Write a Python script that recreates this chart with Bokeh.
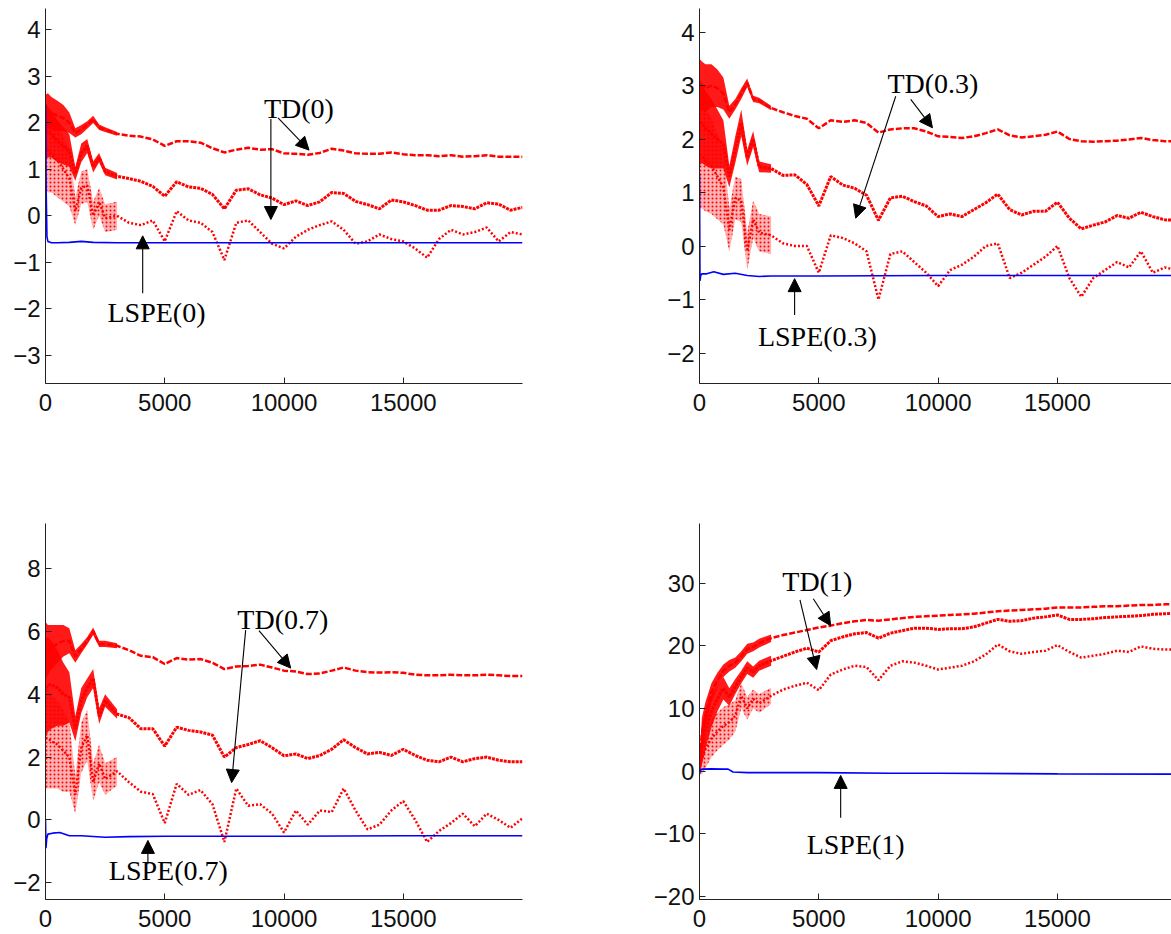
from bokeh.plotting import figure
from bokeh.layouts import column, row
from bokeh.models import Range1d, FixedTicker, Arrow, NormalHead, Label
from bokeh.embed import file_html
from bokeh.resources import INLINE

# ---------------- data ----------------
X = [0, 100, 250, 500, 750, 1000, 1250, 1500, 1750, 2000, 2250, 2500,
     3000, 3500, 4000, 4500, 5000, 5500, 6000, 6500, 7000, 7500,
     8000, 8500, 9000, 9500, 10000, 10500, 11000, 11500, 12000, 12500,
     13000, 13500, 14000, 14500, 15000, 15500, 16000, 16500, 17000, 17500,
     18000, 18500, 19000, 19500, 20000]
EARLY_X = [0, 100, 250, 500, 750, 1000, 1250, 1500, 1750, 2000, 2250, 2500, 3000]
X_TICKS = [0, 5000, 10000, 15000]

# TD(0) panel
TD0_TOP = [2.2, 2.25, 2.2, 2.15, 2.1, 2.0, 1.78, 1.85, 1.95, 2.07, 1.9, 1.85,
           1.76, 1.72, 1.7, 1.64, 1.5, 1.6, 1.6, 1.57, 1.45, 1.36,
           1.42, 1.46, 1.42, 1.43, 1.34, 1.33, 1.31, 1.35, 1.44, 1.4,
           1.34, 1.33, 1.33, 1.36, 1.32, 1.3, 1.3, 1.28, 1.3, 1.27,
           1.28, 1.3, 1.27, 1.27, 1.27]
TD0_MID = [1.8, 1.8, 1.75, 1.6, 1.5, 1.4, 0.9, 1.35, 1.5, 1.05, 1.25, 0.95,
           0.85, 0.8, 0.74, 0.63, 0.42, 0.73, 0.62, 0.59, 0.46, 0.15,
           0.55, 0.58, 0.45, 0.38, 0.24, 0.32, 0.22, 0.3, 0.5, 0.48,
           0.31, 0.24, 0.15, 0.34, 0.3, 0.22, 0.12, 0.12, 0.22, 0.2,
           0.15, 0.28, 0.25, 0.12, 0.18]
TD0_LOW = [1.5, 1.4, 1.3, 1.2, 1.0, 0.8, 0.1, 0.6, 0.65, 0.0, 0.3, -0.05,
           0.0, -0.15, -0.2, -0.1, -0.55, 0.1, -0.1, -0.15, -0.35, -0.95,
           -0.15, -0.1, -0.35, -0.6, -0.7, -0.45, -0.3, -0.2, -0.12, -0.3,
           -0.6, -0.55, -0.4, -0.5, -0.55, -0.7, -0.9, -0.5, -0.3, -0.4,
           -0.35, -0.25, -0.55, -0.35, -0.4]
TD0_TOP_SPREAD = [0.4, 0.38, 0.35, 0.32, 0.28, 0.22, 0.1, 0.1, 0.08, 0.08, 0.06, 0.05, 0.04]
TD0_MID_SPREAD = [0.6, 0.55, 0.5, 0.45, 0.4, 0.35, 0.15, 0.2, 0.15, 0.12, 0.1, 0.08, 0.07]
TD0_LOW_SPREAD = [0.9, 0.9, 0.8, 0.8, 0.7, 0.6, 0.3, 0.35, 0.35, 0.3, 0.3, 0.3, 0.3]
LSPE0_X = [0, 30, 60, 100, 250, 500, 1000, 1500, 2000, 3000, 5000, 10000, 15000, 20000]
LSPE0_Y = [2.4, 0.5, -0.45, -0.55, -0.58, -0.58, -0.57, -0.55, -0.57, -0.58, -0.58, -0.58, -0.58, -0.58]
TD0_YTICKS = [-3, -2, -1, 0, 1, 2, 3, 4]

# TD(0.3) panel
TD3_TOP = [3.0, 3.0, 2.95, 3.0, 2.95, 2.85, 2.5, 2.65, 2.85, 3.05, 2.75, 2.72,
           2.58, 2.5, 2.43, 2.38, 2.2, 2.35, 2.32, 2.35, 2.3, 2.12,
           2.18, 2.2, 2.2, 2.14, 2.05, 2.04, 2.02, 2.05, 2.11, 2.18,
           2.07, 2.03, 2.05, 2.08, 2.14, 2.0, 1.96, 1.95, 1.96, 1.97,
           1.99, 2.02, 1.98, 1.96, 1.96]
TD3_MID = [2.3, 2.3, 2.2, 2.1, 2.0, 1.9, 1.3, 1.8, 2.3, 1.65, 2.0, 1.48,
           1.45, 1.32, 1.33, 1.15, 0.75, 1.3, 1.14, 1.08, 0.95, 0.48,
           0.9, 0.93, 0.83, 0.75, 0.55, 0.6, 0.55, 0.68, 0.81, 0.97,
           0.68, 0.58, 0.65, 0.65, 0.82, 0.52, 0.32, 0.39, 0.45, 0.57,
           0.52, 0.63, 0.55, 0.49, 0.48]
TD3_LOW = [1.7, 1.7, 1.6, 1.5, 1.3, 1.1, 0.3, 0.9, 0.85, -0.1, 0.5, 0.25,
           0.2, 0.05, 0.0, 0.0, -0.5, 0.2, 0.15, 0.05, -0.1, -1.0,
           -0.15, -0.1, -0.3, -0.5, -0.75, -0.45, -0.35, -0.2, 0.0, 0.05,
           -0.6, -0.5, -0.35, -0.2, 0.0, -0.6, -0.95, -0.6, -0.45, -0.3,
           -0.4, -0.1, -0.5, -0.4, -0.45]
TD3_TOP_SPREAD = [0.5, 0.45, 0.45, 0.4, 0.35, 0.3, 0.12, 0.1, 0.1, 0.08, 0.06, 0.05, 0.04]
TD3_MID_SPREAD = [0.8, 0.75, 0.7, 0.65, 0.55, 0.45, 0.2, 0.25, 0.25, 0.15, 0.15, 0.1, 0.08]
TD3_LOW_SPREAD = [1.0, 1.0, 0.95, 0.9, 0.8, 0.7, 0.4, 0.4, 0.4, 0.35, 0.35, 0.35, 0.35]
LSPE3_X = [0, 20, 50, 100, 300, 600, 1000, 1500, 2000, 2500, 3000, 5000, 10000, 15000, 20000]
LSPE3_Y = [1.35, -0.65, -0.55, -0.52, -0.52, -0.48, -0.53, -0.51, -0.55, -0.57, -0.56, -0.56, -0.55, -0.55, -0.55]
TD3_YTICKS = [-2, -1, 0, 1, 2, 3, 4]

# TD(0.7) panel
TD7_TOP = [5.4, 5.4, 5.5, 5.6, 5.7, 5.7, 5.2, 5.45, 5.7, 6.0, 5.6, 5.6,
           5.54, 5.4, 5.22, 5.18, 4.96, 5.15, 5.1, 5.12, 5.0, 4.8,
           4.88, 4.9, 4.94, 4.85, 4.75, 4.72, 4.64, 4.66, 4.75, 4.85,
           4.75, 4.7, 4.69, 4.7, 4.68, 4.62, 4.6, 4.6, 4.62, 4.6,
           4.6, 4.62, 4.6, 4.58, 4.58]
TD7_MID = [4.2, 4.3, 4.3, 4.2, 4.0, 3.9, 2.9, 3.8, 4.2, 4.5, 3.3, 3.8,
           3.37, 3.25, 2.9, 2.9, 2.35, 2.95, 2.85, 2.8, 2.7, 2.0,
           2.3, 2.4, 2.52, 2.3, 2.04, 2.1, 1.95, 2.05, 2.25, 2.55,
           2.3, 2.1, 2.15, 2.05, 2.25, 2.05, 1.9, 1.85, 2.0, 1.85,
           1.95, 2.0, 1.9, 1.85, 1.85]
TD7_LOW = [2.6, 2.6, 2.5, 2.4, 2.2, 2.0, 0.8, 2.3, 2.7, 1.2, 1.8, 1.3,
           1.55, 1.2, 0.9, 0.82, -0.1, 1.15, 0.8, 0.95, 0.5, -0.7,
           1.0, 0.45, 0.5, 0.2, -0.4, 0.3, -0.15, 0.3, 0.25, 1.0,
           0.3, -0.3, -0.15, 0.3, 0.6, 0.0, -0.7, -0.35, -0.1, 0.2,
           -0.2, 0.2, 0.0, -0.25, 0.05]
TD7_TOP_SPREAD = [0.9, 0.8, 0.7, 0.6, 0.5, 0.4, 0.2, 0.15, 0.12, 0.12, 0.1, 0.1, 0.08]
TD7_MID_SPREAD = [1.6, 1.5, 1.4, 1.2, 1.0, 0.8, 0.4, 0.4, 0.3, 0.3, 0.25, 0.2, 0.15]
TD7_LOW_SPREAD = [1.6, 1.6, 1.5, 1.4, 1.3, 1.1, 0.6, 0.8, 0.8, 0.6, 0.6, 0.5, 0.45]
LSPE7_X = [0, 20, 50, 100, 300, 600, 1000, 1500, 2500, 3500, 5000, 10000, 15000, 20000]
LSPE7_Y = [0.0, -0.9, -0.6, -0.45, -0.42, -0.4, -0.5, -0.5, -0.55, -0.53, -0.52, -0.52, -0.5, -0.5]
TD7_YTICKS = [-2, 0, 2, 4, 6, 8]

# TD(1) panel
TD1_TOP = [1.0, 6.0, 9.0, 12.5, 14.5, 16.0, 16.8, 17.3, 18.3, 19.5, 19.8, 20.4,
           21.2, 21.7, 22.1, 22.5, 22.9, 23.2, 23.6, 23.9, 24.1, 24.0,
           24.2, 24.4, 24.6, 24.7, 24.8, 24.9, 25.0, 25.1, 25.3, 25.5,
           25.6, 25.7, 25.8, 25.9, 26.1, 26.1, 26.1, 26.2, 26.3, 26.3,
           26.4, 26.5, 26.5, 26.6, 26.6]
TD1_MID = [0.5, 4.0, 6.5, 9.5, 11.5, 13.2, 11.8, 13.5, 15.0, 16.5, 15.8, 16.8,
           17.6, 18.3, 19.0, 19.6, 19.0, 20.8, 21.4, 21.9, 22.1, 21.2,
           22.0, 22.4, 22.8, 22.8, 22.6, 22.7, 22.7, 23.0, 23.6, 24.2,
           23.9, 24.0, 24.4, 24.6, 24.9, 24.2, 24.2, 24.3, 24.5, 24.6,
           24.7, 24.8, 25.0, 25.1, 25.2]
TD1_LOW = [0.3, 2.0, 3.5, 5.2, 6.3, 7.2, 7.8, 8.8, 12.0, 10.0, 11.5, 10.8,
           12.0, 13.0, 13.6, 14.1, 12.9, 15.4, 16.2, 16.8, 16.6, 14.5,
           16.8, 17.5, 17.3, 16.8, 16.2, 16.5, 16.8, 17.5, 18.6, 20.2,
           19.1, 18.7, 19.0, 19.2, 20.1, 19.0, 18.1, 18.4, 18.7, 19.2,
           19.0, 19.9, 19.5, 19.4, 19.4]
TD1_TOP_SPREAD = [1.0, 2.5, 2.0, 1.5, 1.2, 1.0, 0.9, 0.8, 0.8, 0.8, 0.7, 0.7, 0.6]
TD1_MID_SPREAD = [0.5, 3.0, 3.0, 2.5, 2.0, 1.8, 1.4, 1.2, 1.0, 1.0, 0.9, 0.8, 0.8]
TD1_LOW_SPREAD = [0.5, 2.5, 3.0, 3.0, 3.0, 3.0, 2.8, 2.5, 2.0, 1.8, 1.5, 1.5, 1.3]
LSPE1_X = [0, 50, 100, 500, 1000, 1200, 1400, 2000, 3000, 5000, 8000, 10000, 15000, 20000]
LSPE1_Y = [-0.5, 0.2, 0.3, 0.35, 0.3, 0.3, -0.15, -0.25, -0.25, -0.25, -0.35, -0.35, -0.45, -0.5]
TD1_YTICKS = [-20, -10, 0, 10, 20, 30]

RED = "#ff0000"
BLUE = "#0000ff"
TICK_FONT = "Liberation Sans"
ANN_FONT = "Liberation Serif"


def minus(v):
    return ("\u2212" + str(abs(v))) if v < 0 else str(v)


def make_panel(width, height, mb_left, mb_right, mb_top, mb_bottom,
               xmax, ylim, yticks, top, mid, low, sp_top, sp_mid, sp_low,
               lx, ly, labels, arrows):
    p = figure(width=width, height=height, output_backend="svg",
               toolbar_location=None, x_range=Range1d(0, xmax),
               y_range=Range1d(ylim[0], ylim[1]),
               min_border_left=mb_left, min_border_right=mb_right,
               min_border_top=mb_top, min_border_bottom=mb_bottom)
    p.outline_line_color = None
    p.xgrid.visible = False
    p.ygrid.visible = False
    p.background_fill_color = "white"
    p.border_fill_color = "white"
    for ax in (p.xaxis[0], p.yaxis[0]):
        ax.axis_line_color = "#222222"
        ax.axis_line_width = 1
        ax.major_tick_line_color = "#222222"
        ax.major_tick_in = 6
        ax.major_tick_out = 0
        ax.minor_tick_line_color = None
        ax.major_label_text_font = TICK_FONT
        ax.major_label_text_font_size = "24px"
        ax.major_label_text_color = "#111111"
    p.xaxis.ticker = FixedTicker(ticks=X_TICKS)
    p.xaxis.major_label_standoff = 10
    p.yaxis.ticker = FixedTicker(ticks=yticks)
    p.yaxis.major_label_standoff = 5
    p.yaxis.major_label_overrides = {t: minus(t) for t in yticks}

    n = len(EARLY_X)
    # sparse-dot cloud of the lowest estimate (early phase)
    lo = [low[i] - sp_low[i] for i in range(n)]
    hi = [low[i] + sp_low[i] for i in range(n)]
    p.varea(x=EARLY_X, y1=lo, y2=hi, fill_color=RED, fill_alpha=0.3,
            hatch_pattern=".", hatch_color=RED, hatch_scale=4,
            hatch_weight=1.6, hatch_alpha=1.0)
    # dense noisy bands of the two upper estimates
    for series, sp in ((mid, sp_mid), (top, sp_top)):
        lo = [series[i] - sp[i] for i in range(n)]
        hi = [series[i] + sp[i] for i in range(n)]
        p.varea(x=EARLY_X, y1=lo, y2=hi, fill_color=RED, fill_alpha=0.9)
    # series traces
    p.line(X, low, line_color=RED, line_width=2.5, line_dash="2 2")
    p.line(X, mid, line_color=RED, line_width=3, line_dash="3 1")
    p.line(X, top, line_color=RED, line_width=2.5, line_dash="6 2")
    p.line(lx, ly, line_color=BLUE, line_width=1.6)

    for (tx, ty, txt) in labels:
        p.add_layout(Label(x=tx, y=ty, text=txt, text_font=ANN_FONT,
                           text_font_size="28px", text_baseline="middle",
                           text_align="left", text_color="black"))
    for (x0, y0, x1, y1) in arrows:
        p.add_layout(Arrow(x_start=x0, y_start=y0, x_end=x1, y_end=y1,
                           line_color="black", line_width=1.1,
                           end=NormalHead(size=13, fill_color="black",
                                          line_color="black", line_width=1)))
    return p


TOP_H = 440
BOT_H = 494
LEFT_W = 650
RIGHT_W = 521

p_tl = make_panel(LEFT_W, TOP_H, 45, LEFT_W - 45 - 477, 8, TOP_H - 8 - 375,
                  20000, (-3.6, 4.45), TD0_YTICKS,
                  TD0_TOP, TD0_MID, TD0_LOW,
                  TD0_TOP_SPREAD, TD0_MID_SPREAD, TD0_LOW_SPREAD,
                  LSPE0_X, LSPE0_Y,
                  [(9160, 2.3, "TD(0)"), (2600, -2.07, "LSPE(0)")],
                  [(9750, 2.1, 11050, 1.41), (9450, 2.08, 9450, -0.08),
                   (4075, -1.66, 4075, -0.43)])

p_tr = make_panel(RIGHT_W, TOP_H, 49, 0, 8, TOP_H - 8 - 375,
                  19780, (-2.57, 4.44), TD3_YTICKS,
                  TD3_TOP, TD3_MID, TD3_LOW,
                  TD3_TOP_SPREAD, TD3_MID_SPREAD, TD3_LOW_SPREAD,
                  LSPE3_X, LSPE3_Y,
                  [(7874, 3.04, "TD(0.3)"), (2448, -1.7, "LSPE(0.3)")],
                  [(8853, 2.74, 9762, 2.21), (8224, 2.8, 6545, 0.52),
                   (3986, -1.29, 3986, -0.61)])

p_bl = make_panel(LEFT_W, BOT_H, 45, LEFT_W - 45 - 477, 83, BOT_H - 83 - 376,
                  20000, (-2.53, 9.43), TD7_YTICKS,
                  TD7_TOP, TD7_MID, TD7_LOW,
                  TD7_TOP_SPREAD, TD7_MID_SPREAD, TD7_LOW_SPREAD,
                  LSPE7_X, LSPE7_Y,
                  [(8042, 6.39, "TD(0.7)"), (2657, -1.62, "LSPE(0.7)")],
                  [(8951, 6.02, 10280, 4.83), (8392, 6.04, 7804, 1.19),
                   (4294, -1.41, 4294, -0.65)])

p_br = make_panel(RIGHT_W, BOT_H, 49, 0, 83, BOT_H - 83 - 376,
                  19780, (-20.5, 39.5), TD1_YTICKS,
                  TD1_TOP, TD1_MID, TD1_LOW,
                  TD1_TOP_SPREAD, TD1_MID_SPREAD, TD1_LOW_SPREAD,
                  LSPE1_X, LSPE1_Y,
                  [(3469, 30.2, "TD(1)"), (4490, -11.7, "LSPE(1)")],
                  [(4769, 27.5, 5497, 23.2), (4210, 27.3, 4909, 16.2),
                   (5916, -7.45, 5916, -0.7)])

layout = column(row(p_tl, p_tr), row(p_bl, p_br))

open("out.html", "w").write(file_html(layout, INLINE))
